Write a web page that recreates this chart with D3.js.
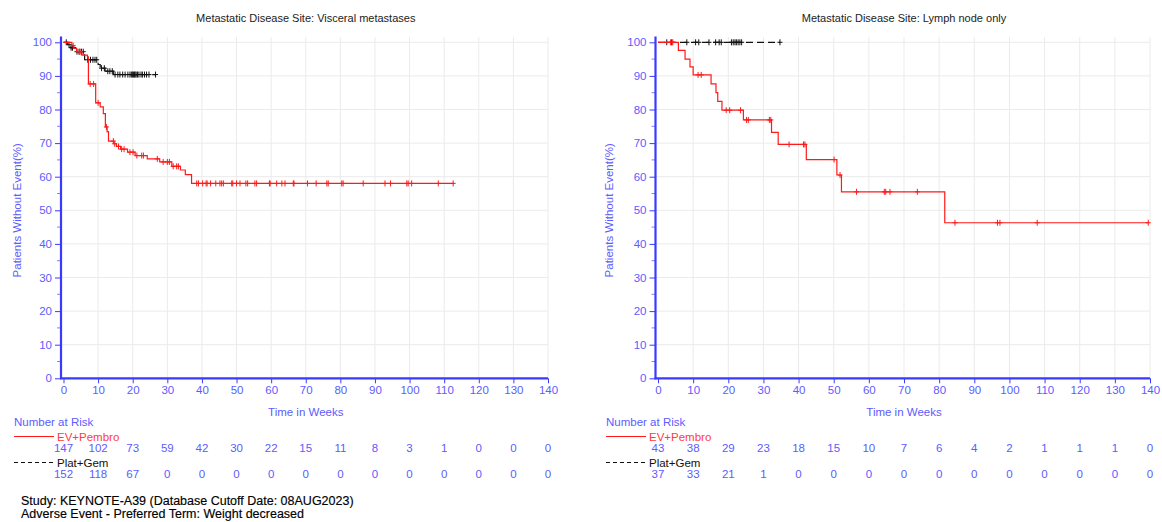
<!DOCTYPE html>
<html>
<head>
<meta charset="utf-8">
<script src="https://cdn.jsdelivr.net/npm/d3@7"></script>
<style>
  html, body { margin: 0; padding: 0; background: #fff; }
  svg { display: block; font-family: "Liberation Sans", Arial, sans-serif; }
</style>
</head>
<body>
<svg id="chart" width="1162" height="522"></svg>
<script>
// ---------------- DATA ----------------
const weekTicks = [0,10,20,30,40,50,60,70,80,90,100,110,120,130,140];
const pctTicks = [0,10,20,30,40,50,60,70,80,90,100];
const seriesNames = ["EV+Pembro", "Plat+Gem"];
const panelTitles = ["Metastatic Disease Site: Visceral metastases", "Metastatic Disease Site: Lymph node only"];

// Visceral metastases - EV+Pembro: step times (weeks) and survival (%) after each step
const viscEvTimes = [0, 2.4, 3.0, 3.8, 5.3, 6.9, 7.2, 9.3, 10.6, 11.5, 12.1, 12.6, 13.0, 14.5, 15.3, 16.5, 18.5, 20.7, 24.2, 27.8, 31.3, 33.8, 35.2, 37.0];
const viscEvSurv  = [100, 99.0, 98.2, 97.2, 96.2, 95.7, 87.6, 82.0, 80.8, 78.8, 74.8, 73.4, 70.6, 69.8, 69.0, 68.2, 67.3, 66.3, 65.3, 64.4, 63.1, 62.0, 60.6, 58.0];
const viscEvEnd = 112.7;
const viscEvCensor = [2.8, 4.6, 5.0, 7.7, 8.7, 10.0, 12.4, 14.4, 14.8, 15.9, 16.8, 17.5, 19.2, 20.1, 21.2, 22.6, 23.1, 27.1, 28.8, 30.0, 30.6, 31.7, 32.7, 33.2, 38.5, 39.0, 40.2, 41.2, 41.5, 42.5, 44.0, 45.2, 45.7, 46.2, 48.6, 48.9, 50.0, 51.0, 52.7, 53.2, 55.3, 55.8, 59.5, 59.7, 61.6, 63.1, 64.0, 66.4, 66.6, 70.5, 73.0, 76.1, 76.5, 80.4, 80.8, 86.6, 92.9, 94.5, 99.2, 99.6, 100.6, 108.3, 112.6];

// Visceral metastases - Plat+Gem
const viscPgTimes = [0, 1.2, 2.0, 3.5, 6.1, 10.0, 10.6, 12.0, 14.4];
const viscPgSurv  = [100, 99.3, 98.4, 97.2, 94.8, 93.4, 92.3, 91.4, 90.4];
const viscPgEnd = 26.6;
const viscPgCensor = [0.8, 1.6, 2.2, 2.6, 3.9, 4.5, 5.2, 5.7, 7.0, 7.8, 8.5, 9.1, 9.6, 11.0, 11.8, 12.8, 13.4, 14.1, 14.9, 15.7, 16.3, 17.1, 17.8, 18.6, 19.2, 19.6, 19.9, 20.2, 20.5, 20.7, 21.0, 21.4, 21.8, 22.4, 22.8, 23.4, 24.0, 24.7, 26.6];

// Lymph node only - EV+Pembro
const lymphEvTimes = [0, 5.8, 7.7, 9.1, 10.0, 15.1, 16.5, 17.0, 18.2, 24.3, 32.3, 34.2, 42.2, 50.9, 52.2, 81.6];
const lymphEvSurv  = [100, 97.6, 95.0, 92.7, 90.3, 87.6, 85.0, 82.4, 79.8, 76.9, 73.2, 69.6, 65.1, 60.5, 55.5, 46.3];
const lymphEvEnd = 139.5;
const lymphEvCensor = [3.6, 4.2, 11.4, 12.3, 19.4, 20.4, 23.5, 25.2, 25.7, 31.7, 32.1, 37.3, 41.4, 41.8, 50.1, 51.8, 56.5, 64.4, 64.8, 66.0, 73.8, 84.5, 96.6, 97.3, 107.9, 139.5];

// Lymph node only - Plat+Gem
const lymphPgTimes = [0];
const lymphPgSurv  = [100];
const lymphPgEnd = 34.7;
const lymphPgCensor = [2.5, 3.9, 8.2, 10.7, 11.6, 14.5, 16.4, 17.4, 18.0, 20.9, 21.4, 21.9, 22.3, 22.8, 23.3, 23.8, 34.7];

// Number at risk
const viscEvRisk  = [147, 102, 73, 59, 42, 30, 22, 15, 11, 8, 3, 1, 0, 0, 0];
const viscPgRisk  = [152, 118, 67, 0, 0, 0, 0, 0, 0, 0, 0, 0, 0, 0, 0];
const lymphEvRisk = [43, 38, 29, 23, 18, 15, 10, 7, 6, 4, 2, 1, 1, 1, 0];
const lymphPgRisk = [37, 33, 21, 1, 0, 0, 0, 0, 0, 0, 0, 0, 0, 0, 0];

const footnotes = ["Study: KEYNOTE-A39 (Database Cutoff Date: 08AUG2023)", "Adverse Event - Preferred Term: Weight decreased"];

// ---------------- DRAW ----------------
const svg = d3.select("#chart");
const AXIS = "#3a3aff", TXT = "#5c5cff", GRID = "#ebebeb";

const panels = [
  { title: panelTitles[0], x0: 63.5, x1: 548, axisX: 61, left: 14,
    series: [
      { times: viscEvTimes, surv: viscEvSurv, end: viscEvEnd, cens: viscEvCensor, color: "#ff1a1a", dash: null },
      { times: viscPgTimes, surv: viscPgSurv, end: viscPgEnd, cens: viscPgCensor, color: "#111", dash: "7,4" }
    ],
    risk: [viscEvRisk, viscPgRisk] },
  { title: panelTitles[1], x0: 658, x1: 1150, axisX: 655.5, left: 606,
    series: [
      { times: lymphEvTimes, surv: lymphEvSurv, end: lymphEvEnd, cens: lymphEvCensor, color: "#ff1a1a", dash: null },
      { times: lymphPgTimes, surv: lymphPgSurv, end: lymphPgEnd, cens: lymphPgCensor, color: "#111", dash: "7,4" }
    ],
    risk: [lymphEvRisk, lymphPgRisk] }
];

const yTop = 42.3, yBot = 378.3;

panels.forEach(p => {
  const x = d3.scaleLinear().domain([0, 140]).range([p.x0, p.x1]);
  const y = d3.scaleLinear().domain([0, 100]).range([yBot, yTop]);
  const g = svg.append("g");

  // gridlines
  g.append("g").selectAll("line.v").data(weekTicks.slice(1)).join("line")
    .attr("x1", d => x(d)).attr("x2", d => x(d)).attr("y1", 37).attr("y2", yBot)
    .attr("stroke", GRID).attr("stroke-width", 1);
  g.append("g").selectAll("line.h").data(pctTicks.slice(1)).join("line")
    .attr("x1", p.axisX).attr("x2", x(140)).attr("y1", d => y(d)).attr("y2", d => y(d))
    .attr("stroke", GRID).attr("stroke-width", 1);

  // title
  g.append("text").attr("x", (p.x0 + p.x1) / 2).attr("y", 22).attr("text-anchor", "middle")
    .attr("font-size", 11).attr("fill", "#222").text(p.title);

  // y axis
  const yAxis = d3.axisLeft(y).tickValues(pctTicks).tickSize(6).tickPadding(3);
  const ya = g.append("g").attr("transform", `translate(${p.axisX},0)`).call(yAxis);
  ya.select(".domain").remove();
  ya.selectAll(".tick line").attr("stroke", AXIS);
  ya.selectAll(".tick text").attr("fill", TXT).attr("font-size", 11.5).attr("font-family", "Liberation Sans, Arial, sans-serif");
  // minor ticks
  g.append("g").selectAll("line").data(d3.range(5, 100, 10)).join("line")
    .attr("x1", p.axisX - 4).attr("x2", p.axisX).attr("y1", d => y(d)).attr("y2", d => y(d))
    .attr("stroke", "#8080ff").attr("stroke-width", 1);
  g.append("line").attr("x1", p.axisX).attr("x2", p.axisX).attr("y1", 36.5).attr("y2", yBot + 1)
    .attr("stroke", AXIS).attr("stroke-width", 2.2);

  // x axis
  const xAxis = d3.axisBottom(x).tickValues(weekTicks).tickSize(5).tickPadding(3);
  const xa = g.append("g").attr("transform", `translate(0,${yBot})`).call(xAxis);
  xa.select(".domain").remove();
  xa.selectAll(".tick line").attr("stroke", AXIS);
  xa.selectAll(".tick text").attr("fill", TXT).attr("font-size", 11.5).attr("font-family", "Liberation Sans, Arial, sans-serif");
  g.append("line").attr("x1", p.axisX - 1).attr("x2", x(140)).attr("y1", yBot).attr("y2", yBot)
    .attr("stroke", AXIS).attr("stroke-width", 2.2);

  // axis labels
  g.append("text").attr("x", (p.x0 + p.x1) / 2).attr("y", 416).attr("text-anchor", "middle")
    .attr("font-size", 11.5).attr("fill", TXT).text("Time in Weeks");
  g.append("text").attr("transform", `translate(${p.left + 7},${(yTop + yBot) / 2}) rotate(-90)`)
    .attr("text-anchor", "middle").attr("font-size", 11.5).attr("fill", TXT).text("Patients Without Event(%)");

  // curves
  p.series.slice().reverse().forEach(s => {
    const pts = [];
    s.times.forEach((t, i) => {
      if (i > 0) pts.push([t, s.surv[i - 1]]);
      pts.push([t, s.surv[i]]);
    });
    pts.push([s.end, s.surv[s.surv.length - 1]]);
    const line = d3.line().x(d => x(d[0])).y(d => y(d[1]));
    g.append("path").attr("d", line(pts)).attr("fill", "none")
      .attr("stroke", s.color).attr("stroke-width", 1.2)
      .attr("stroke-dasharray", s.dash);
    const survAt = t => { let v = s.surv[0]; s.times.forEach((tt, i) => { if (tt <= t) v = s.surv[i]; }); return v; };
    const cg = g.append("g");
    cg.selectAll("path").data(s.cens).join("path")
      .attr("d", t => { const cx = x(t), cy = y(survAt(t)); return `M${cx - 2.5},${cy}H${cx + 2.5}M${cx},${cy - 3}V${cy + 3}`; })
      .attr("stroke", s.color).attr("stroke-width", 1).attr("fill", "none");
  });

  // risk table
  const rg = g.append("g").attr("font-size", 11.5);
  rg.append("text").attr("x", p.left).attr("y", 426).attr("fill", TXT).text("Number at Risk");
  rg.append("line").attr("x1", p.left).attr("x2", p.left + 40).attr("y1", 436.5).attr("y2", 436.5)
    .attr("stroke", "#ff1a1a").attr("stroke-width", 1);
  rg.append("text").attr("x", p.left + 43).attr("y", 441).attr("fill", "#ff3b3b").text(seriesNames[0]);
  rg.append("line").attr("x1", p.left).attr("x2", p.left + 40).attr("y1", 462.5).attr("y2", 462.5)
    .attr("stroke", "#111").attr("stroke-width", 1).attr("stroke-dasharray", "4,3");
  rg.append("text").attr("x", p.left + 43).attr("y", 467).attr("fill", "#111").text(seriesNames[1]);
  rg.append("g").selectAll("text").data(p.risk[0]).join("text")
    .attr("x", (d, i) => x(weekTicks[i])).attr("y", 452).attr("text-anchor", "middle").attr("fill", TXT).text(d => d);
  rg.append("g").selectAll("text").data(p.risk[1]).join("text")
    .attr("x", (d, i) => x(weekTicks[i])).attr("y", 478).attr("text-anchor", "middle").attr("fill", TXT).text(d => d);
});

// footnotes
svg.append("g").selectAll("text").data(footnotes).join("text")
  .attr("x", 21).attr("y", (d, i) => 505 + i * 13).attr("font-size", 12.5).attr("fill", "#000")
  .attr("stroke", "#000").attr("stroke-width", 0.15).text(d => d);
</script>
</body>
</html>
